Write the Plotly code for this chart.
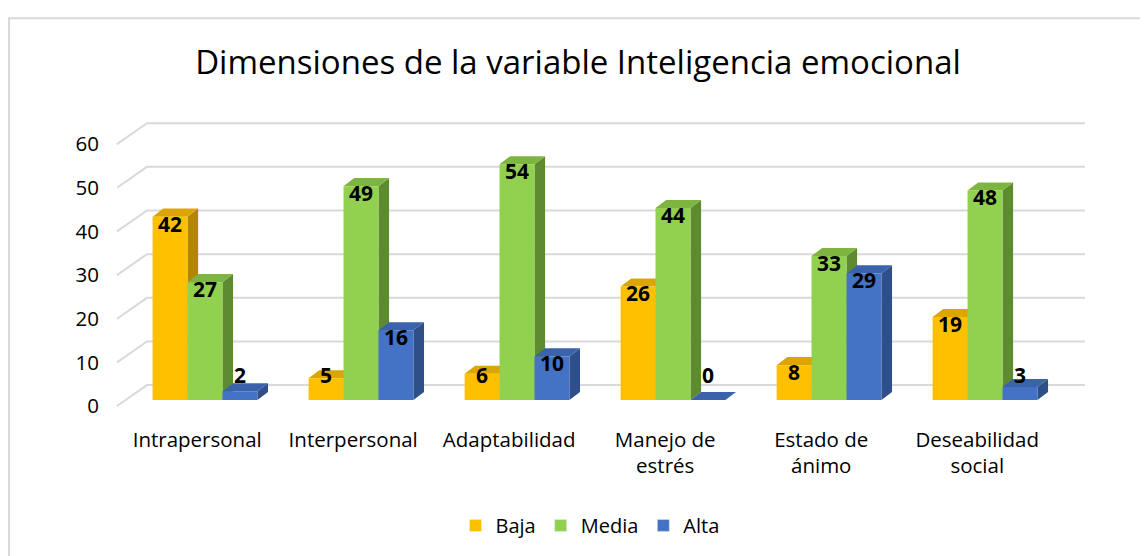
import plotly.graph_objects as go

categories = ["Intrapersonal", "Interpersonal", "Adaptabilidad", "Manejo de<br>estrés", "Estado de<br>ánimo", "Deseabilidad<br>social"]
series_names = ["Baja", "Media", "Alta"]
baja = [42, 5, 6, 26, 8, 19]
media = [27, 49, 54, 44, 33, 48]
alta = [2, 16, 10, 0, 29, 3]
y_ticks = [0, 10, 20, 30, 40, 50, 60]

values = [baja, media, alta]
front_colors = ["#FFC000", "#92D050", "#4472C4"]
side_colors = ["#B38600", "#5E8A30", "#2E4F88"]
top_colors = ["#DDA500", "#7DB540", "#3A63AC"]

FONT = "Open Sans, Calibri, Carlito, sans-serif"

# geometry (data units)
W = 0.224          # bar width
DX = 0.068         # depth offset x
DY = 1.85          # depth offset y
offsets = [-W, 0.0, W]
BACK_DY = 3.42     # back wall offset
BACK_X0, BACK_X1 = -0.372, 5.641
FRONT_X0, FRONT_DY = -0.564, -1.37

fig = go.Figure()

# back wall gridlines + floor/wall diagonals
gx, gy = [], []
for v in y_ticks:
    gx += [FRONT_X0, BACK_X0, BACK_X1, None]
    gy += [v + FRONT_DY, v + BACK_DY, v + BACK_DY, None]
fig.add_trace(go.Scatter(x=gx, y=gy, mode="lines", line=dict(color="#D9D9D9", width=2),
                         hoverinfo="skip", showlegend=False))

n = len(categories)
for s, vals in enumerate(values):
    sx, sy, tx, ty, fx, fy = [], [], [], [], [], []
    for i, v in enumerate(vals):
        x0 = i + offsets[s] - W / 2
        x1 = x0 + W
        sx += [x1, x1, x1 + DX, x1 + DX, x1, None]
        sy += [0, v, v + DY, DY, 0, None]
        tx += [x0, x1, x1 + DX, x0 + DX, x0, None]
        ty += [v, v, v + DY, v + DY, v, None]
        fx += [x0, x1, x1, x0, x0, None]
        fy += [0, 0, v, v, 0, None]
    for xx, yy, col in [(sx, sy, side_colors[s]), (tx, ty, top_colors[s]), (fx, fy, front_colors[s])]:
        fig.add_trace(go.Scatter(x=xx, y=yy, mode="lines", fill="toself", fillcolor=col,
                                 line=dict(width=0, color=col), hoverinfo="skip", showlegend=False))

# data labels
for s, vals in enumerate(values):
    fig.add_trace(go.Scatter(
        x=[i + offsets[s] for i in range(n)],
        y=[max(v - 2.2, 5.0) for v in vals],
        mode="text", text=[str(v) for v in vals],
        textfont=dict(family=FONT, size=21, color="#000000", weight="bold"),
        hoverinfo="skip", showlegend=False))

# legend entries
for s, name in enumerate(series_names):
    fig.add_trace(go.Bar(x=[None], y=[None], name=name, marker=dict(color=front_colors[s])))

fig.update_layout(
    width=1140, height=548,
    margin=dict(l=92, r=48, t=102, b=136),
    paper_bgcolor="white", plot_bgcolor="white",
    title=dict(text="Dimensiones de la variable Inteligencia emocional", x=0.5, xanchor="center",
               y=0.9015, yanchor="middle",
               font=dict(family=FONT, size=33, color="#000000")),
    xaxis=dict(range=[-0.673, 5.737], showgrid=False, zeroline=False, showline=False,
               tickmode="array", tickvals=[i - 0.05 for i in range(n)], ticktext=categories,
               tickfont=dict(family=FONT, size=20.5, color="#000000"), ticks="",
               ticklabelstandoff=6, fixedrange=True),
    yaxis=dict(range=[-4.34, 66.44], showgrid=False, zeroline=False, showline=False,
               tickmode="array", tickvals=[v + FRONT_DY for v in y_ticks], ticktext=[str(v) for v in y_ticks],
               tickfont=dict(family=FONT, size=20.5, color="#000000"), ticks="", fixedrange=True),
    legend=dict(orientation="h", x=0.49, xanchor="center", y=-0.34, yanchor="middle",
                font=dict(family=FONT, size=20, color="#000000"), itemwidth=30),
    shapes=[dict(type="rect", xref="paper", yref="paper", x0=-0.091, x1=1.06, y0=-0.5, y1=1.297,
                 line=dict(color="#D9D9D9", width=2), fillcolor="rgba(0,0,0,0)", layer="below")],
)

fig.write_html("out.html")
